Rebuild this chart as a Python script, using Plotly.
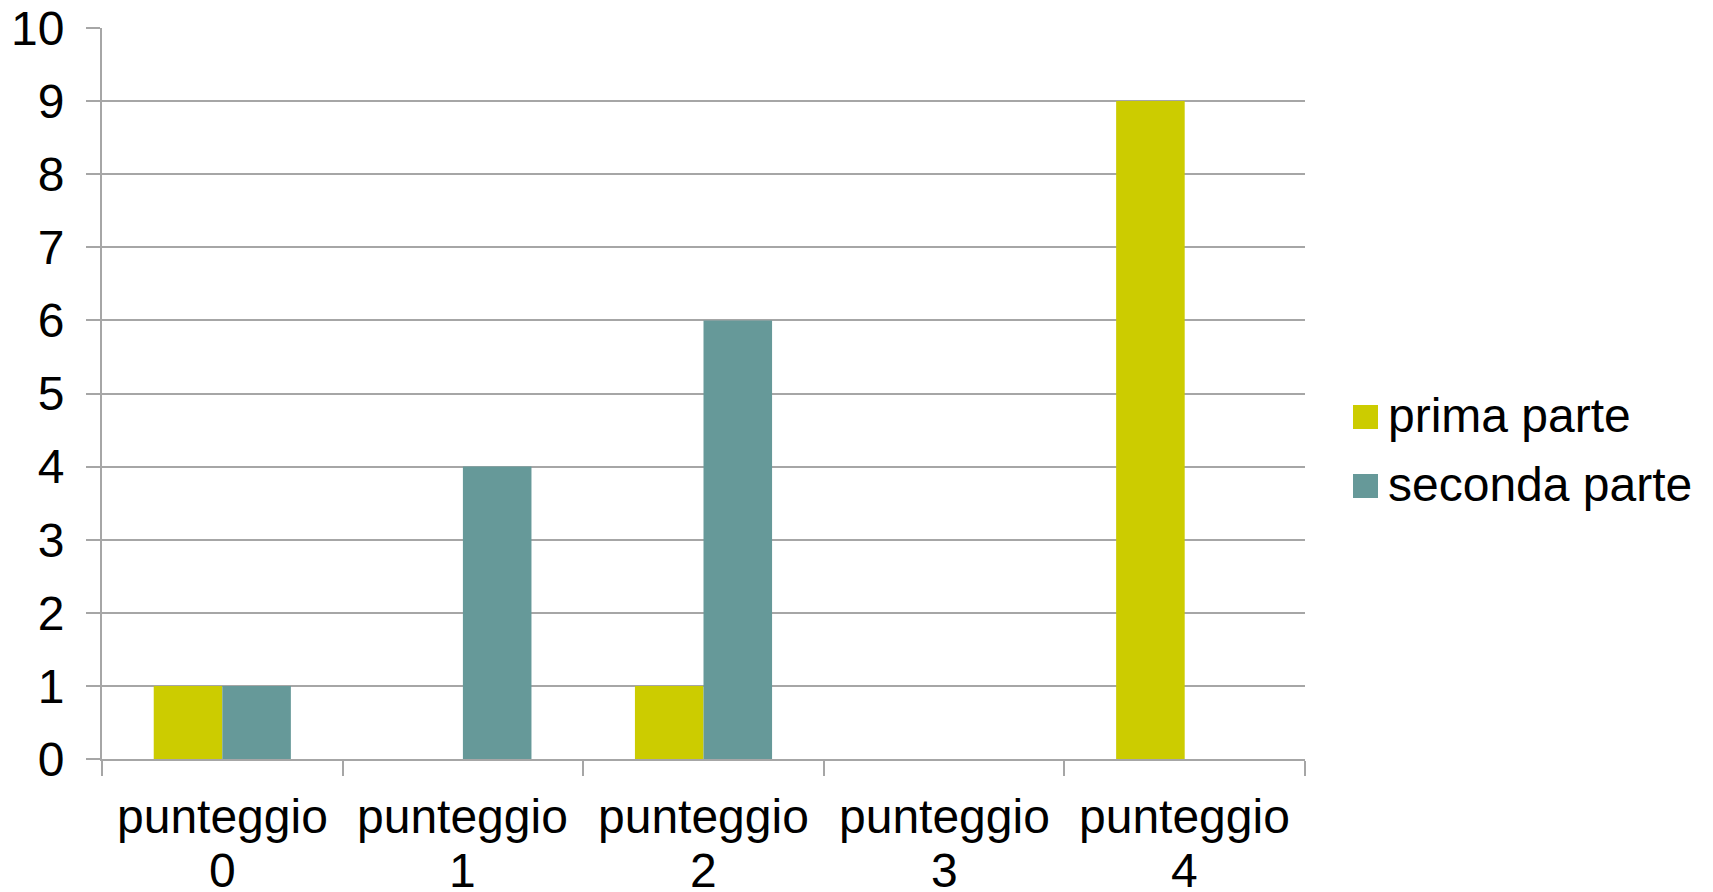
import plotly.graph_objects as go

# Chart data
categories = ["punteggio 0", "punteggio 1", "punteggio 2", "punteggio 3", "punteggio 4"]
series_names = ["prima parte", "seconda parte"]
prima_parte = [1, 0, 1, 0, 9]
seconda_parte = [1, 4, 6, 0, 0]
y_ticks = list(range(0, 11))

colors = ["#CCCC00", "#669999"]
FONT = "Liberation Sans, Arial, sans-serif"
GRID = "#A6A6A6"
FS = 48

W, H = 1713, 892
M_L, M_R, M_T, M_B = 102, 408, 28, 133
plot_w = W - M_L - M_R
plot_h = H - M_T - M_B

fig = go.Figure()
for name, vals, col in zip(series_names, [prima_parte, seconda_parte], colors):
    fig.add_trace(go.Bar(x=categories, y=vals, name=name,
                         marker=dict(color=col, line=dict(width=0)),
                         showlegend=False))


def px_to_paper_x(px):
    return (px - M_L) / plot_w


def px_to_paper_y(py):
    return (H - M_B - py) / plot_h


shapes = []
annotations = []

# Category labels, split over two tightly spaced lines under each group
for cat in categories:
    word, num = cat.split(" ")
    for text, center in ((word, 816), (num, 870)):
        annotations.append(dict(text=text, xref="x", yref="paper",
                                x=cat, y=px_to_paper_y(center),
                                xanchor="center", yanchor="middle", showarrow=False,
                                font=dict(family=FONT, size=FS, color="black")))

# Custom legend: large square swatches with labels to the right
legend_rows = [(405, 429), (474, 498)]
for (top, bot), name, col in zip(legend_rows, series_names, colors):
    shapes.append(dict(type="rect", xref="paper", yref="paper",
                       x0=px_to_paper_x(1353), x1=px_to_paper_x(1378),
                       y0=px_to_paper_y(bot), y1=px_to_paper_y(top),
                       fillcolor=col, line=dict(width=0)))
    annotations.append(dict(text=name, xref="paper", yref="paper",
                            x=px_to_paper_x(1386), y=px_to_paper_y((top + bot) / 2 - 1),
                            xanchor="left", yanchor="middle", showarrow=False,
                            font=dict(family=FONT, size=FS, color="black")))

fig.update_layout(
    width=W, height=H,
    margin=dict(l=M_L, r=M_R, t=M_T, b=M_B, pad=0, autoexpand=False),
    paper_bgcolor="white", plot_bgcolor="white",
    barmode="group", bargap=0.43, bargroupgap=0,
    font=dict(family=FONT, size=FS, color="black"),
    shapes=shapes, annotations=annotations,
    xaxis=dict(
        type="category", showgrid=False, zeroline=False, automargin=False,
        showline=True, linecolor=GRID, linewidth=2,
        ticks="outside", tickson="boundaries", ticklen=15,
        tickcolor=GRID, tickwidth=2, showticklabels=False,
    ),
    yaxis=dict(
        range=[0, 10], tickvals=y_ticks, ticktext=[str(v) for v in y_ticks],
        automargin=False,
        showgrid=True, gridcolor=GRID, gridwidth=1.5,
        zeroline=False, showline=True, linecolor=GRID, linewidth=2,
        ticks="outside", ticklen=14, tickcolor=GRID, tickwidth=1.5,
        tickfont=dict(family=FONT, size=FS, color="black"),
        ticklabelstandoff=12,
    ),
)

fig.write_html("out.html")
